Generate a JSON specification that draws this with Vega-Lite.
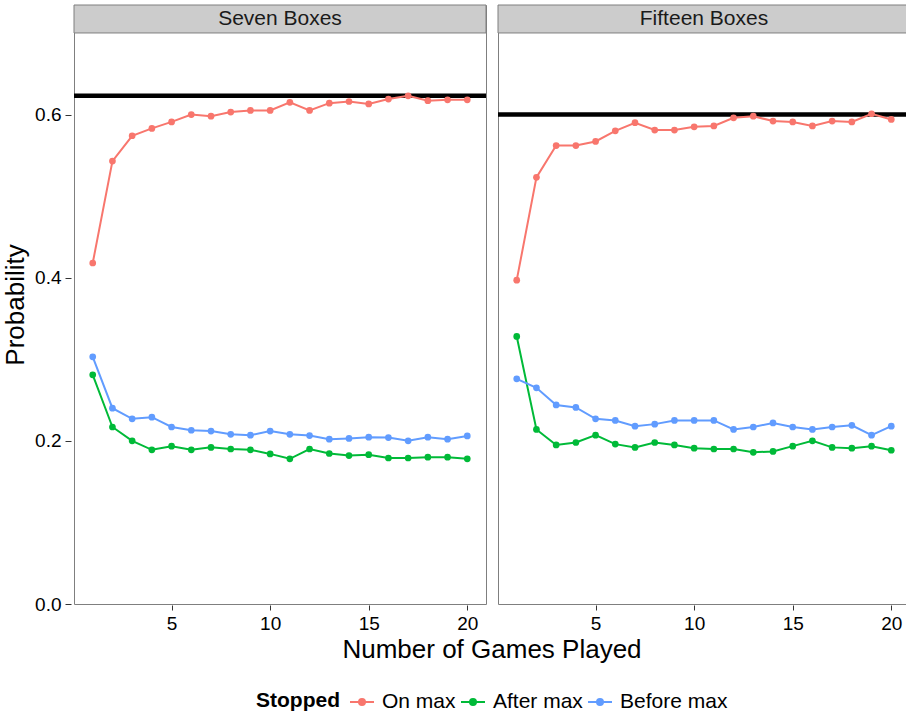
{
  "$schema": "https://vega.github.io/schema/vega-lite/v6.json",
  "padding": {"left": 2, "top": 4, "right": 0, "bottom": 0},
  "config": {
    "font": "Liberation Sans",
    "view": {"stroke": "#7F7F7F", "strokeWidth": 1},
    "axis": {"labelFontSize": 19, "labelColor": "#000000", "titleFontSize": 26, "titleFontWeight": "normal", "titleColor": "#000000", "domain": false},
    "legend": {"labelFontSize": 21, "titleFontSize": 21, "titleColor": "#000000", "labelColor": "#000000"}
  },
  "data": {"values": [
    {"panel":"Seven Boxes","optimal":0.623},
    {"panel":"Fifteen Boxes","optimal":0.600},
    {"panel":"Seven Boxes","game":1,"stopped":"On max","prob":0.418},
    {"panel":"Seven Boxes","game":2,"stopped":"On max","prob":0.543},
    {"panel":"Seven Boxes","game":3,"stopped":"On max","prob":0.574},
    {"panel":"Seven Boxes","game":4,"stopped":"On max","prob":0.583},
    {"panel":"Seven Boxes","game":5,"stopped":"On max","prob":0.591},
    {"panel":"Seven Boxes","game":6,"stopped":"On max","prob":0.600},
    {"panel":"Seven Boxes","game":7,"stopped":"On max","prob":0.598},
    {"panel":"Seven Boxes","game":8,"stopped":"On max","prob":0.603},
    {"panel":"Seven Boxes","game":9,"stopped":"On max","prob":0.605},
    {"panel":"Seven Boxes","game":10,"stopped":"On max","prob":0.605},
    {"panel":"Seven Boxes","game":11,"stopped":"On max","prob":0.615},
    {"panel":"Seven Boxes","game":12,"stopped":"On max","prob":0.605},
    {"panel":"Seven Boxes","game":13,"stopped":"On max","prob":0.614},
    {"panel":"Seven Boxes","game":14,"stopped":"On max","prob":0.616},
    {"panel":"Seven Boxes","game":15,"stopped":"On max","prob":0.613},
    {"panel":"Seven Boxes","game":16,"stopped":"On max","prob":0.619},
    {"panel":"Seven Boxes","game":17,"stopped":"On max","prob":0.623},
    {"panel":"Seven Boxes","game":18,"stopped":"On max","prob":0.617},
    {"panel":"Seven Boxes","game":19,"stopped":"On max","prob":0.618},
    {"panel":"Seven Boxes","game":20,"stopped":"On max","prob":0.618},
    {"panel":"Seven Boxes","game":1,"stopped":"After max","prob":0.281},
    {"panel":"Seven Boxes","game":2,"stopped":"After max","prob":0.217},
    {"panel":"Seven Boxes","game":3,"stopped":"After max","prob":0.200},
    {"panel":"Seven Boxes","game":4,"stopped":"After max","prob":0.189},
    {"panel":"Seven Boxes","game":5,"stopped":"After max","prob":0.1935},
    {"panel":"Seven Boxes","game":6,"stopped":"After max","prob":0.189},
    {"panel":"Seven Boxes","game":7,"stopped":"After max","prob":0.192},
    {"panel":"Seven Boxes","game":8,"stopped":"After max","prob":0.190},
    {"panel":"Seven Boxes","game":9,"stopped":"After max","prob":0.189},
    {"panel":"Seven Boxes","game":10,"stopped":"After max","prob":0.184},
    {"panel":"Seven Boxes","game":11,"stopped":"After max","prob":0.178},
    {"panel":"Seven Boxes","game":12,"stopped":"After max","prob":0.190},
    {"panel":"Seven Boxes","game":13,"stopped":"After max","prob":0.1845},
    {"panel":"Seven Boxes","game":14,"stopped":"After max","prob":0.182},
    {"panel":"Seven Boxes","game":15,"stopped":"After max","prob":0.183},
    {"panel":"Seven Boxes","game":16,"stopped":"After max","prob":0.179},
    {"panel":"Seven Boxes","game":17,"stopped":"After max","prob":0.179},
    {"panel":"Seven Boxes","game":18,"stopped":"After max","prob":0.180},
    {"panel":"Seven Boxes","game":19,"stopped":"After max","prob":0.180},
    {"panel":"Seven Boxes","game":20,"stopped":"After max","prob":0.178},
    {"panel":"Seven Boxes","game":1,"stopped":"Before max","prob":0.303},
    {"panel":"Seven Boxes","game":2,"stopped":"Before max","prob":0.240},
    {"panel":"Seven Boxes","game":3,"stopped":"Before max","prob":0.227},
    {"panel":"Seven Boxes","game":4,"stopped":"Before max","prob":0.229},
    {"panel":"Seven Boxes","game":5,"stopped":"Before max","prob":0.217},
    {"panel":"Seven Boxes","game":6,"stopped":"Before max","prob":0.213},
    {"panel":"Seven Boxes","game":7,"stopped":"Before max","prob":0.212},
    {"panel":"Seven Boxes","game":8,"stopped":"Before max","prob":0.208},
    {"panel":"Seven Boxes","game":9,"stopped":"Before max","prob":0.207},
    {"panel":"Seven Boxes","game":10,"stopped":"Before max","prob":0.212},
    {"panel":"Seven Boxes","game":11,"stopped":"Before max","prob":0.208},
    {"panel":"Seven Boxes","game":12,"stopped":"Before max","prob":0.2065},
    {"panel":"Seven Boxes","game":13,"stopped":"Before max","prob":0.202},
    {"panel":"Seven Boxes","game":14,"stopped":"Before max","prob":0.203},
    {"panel":"Seven Boxes","game":15,"stopped":"Before max","prob":0.2045},
    {"panel":"Seven Boxes","game":16,"stopped":"Before max","prob":0.204},
    {"panel":"Seven Boxes","game":17,"stopped":"Before max","prob":0.200},
    {"panel":"Seven Boxes","game":18,"stopped":"Before max","prob":0.2045},
    {"panel":"Seven Boxes","game":19,"stopped":"Before max","prob":0.202},
    {"panel":"Seven Boxes","game":20,"stopped":"Before max","prob":0.206},
    {"panel":"Fifteen Boxes","game":1,"stopped":"On max","prob":0.397},
    {"panel":"Fifteen Boxes","game":2,"stopped":"On max","prob":0.523},
    {"panel":"Fifteen Boxes","game":3,"stopped":"On max","prob":0.562},
    {"panel":"Fifteen Boxes","game":4,"stopped":"On max","prob":0.562},
    {"panel":"Fifteen Boxes","game":5,"stopped":"On max","prob":0.567},
    {"panel":"Fifteen Boxes","game":6,"stopped":"On max","prob":0.580},
    {"panel":"Fifteen Boxes","game":7,"stopped":"On max","prob":0.590},
    {"panel":"Fifteen Boxes","game":8,"stopped":"On max","prob":0.581},
    {"panel":"Fifteen Boxes","game":9,"stopped":"On max","prob":0.581},
    {"panel":"Fifteen Boxes","game":10,"stopped":"On max","prob":0.585},
    {"panel":"Fifteen Boxes","game":11,"stopped":"On max","prob":0.586},
    {"panel":"Fifteen Boxes","game":12,"stopped":"On max","prob":0.596},
    {"panel":"Fifteen Boxes","game":13,"stopped":"On max","prob":0.598},
    {"panel":"Fifteen Boxes","game":14,"stopped":"On max","prob":0.592},
    {"panel":"Fifteen Boxes","game":15,"stopped":"On max","prob":0.591},
    {"panel":"Fifteen Boxes","game":16,"stopped":"On max","prob":0.586},
    {"panel":"Fifteen Boxes","game":17,"stopped":"On max","prob":0.592},
    {"panel":"Fifteen Boxes","game":18,"stopped":"On max","prob":0.591},
    {"panel":"Fifteen Boxes","game":19,"stopped":"On max","prob":0.601},
    {"panel":"Fifteen Boxes","game":20,"stopped":"On max","prob":0.594},
    {"panel":"Fifteen Boxes","game":1,"stopped":"After max","prob":0.328},
    {"panel":"Fifteen Boxes","game":2,"stopped":"After max","prob":0.214},
    {"panel":"Fifteen Boxes","game":3,"stopped":"After max","prob":0.195},
    {"panel":"Fifteen Boxes","game":4,"stopped":"After max","prob":0.198},
    {"panel":"Fifteen Boxes","game":5,"stopped":"After max","prob":0.207},
    {"panel":"Fifteen Boxes","game":6,"stopped":"After max","prob":0.196},
    {"panel":"Fifteen Boxes","game":7,"stopped":"After max","prob":0.192},
    {"panel":"Fifteen Boxes","game":8,"stopped":"After max","prob":0.198},
    {"panel":"Fifteen Boxes","game":9,"stopped":"After max","prob":0.195},
    {"panel":"Fifteen Boxes","game":10,"stopped":"After max","prob":0.191},
    {"panel":"Fifteen Boxes","game":11,"stopped":"After max","prob":0.190},
    {"panel":"Fifteen Boxes","game":12,"stopped":"After max","prob":0.190},
    {"panel":"Fifteen Boxes","game":13,"stopped":"After max","prob":0.186},
    {"panel":"Fifteen Boxes","game":14,"stopped":"After max","prob":0.187},
    {"panel":"Fifteen Boxes","game":15,"stopped":"After max","prob":0.1935},
    {"panel":"Fifteen Boxes","game":16,"stopped":"After max","prob":0.200},
    {"panel":"Fifteen Boxes","game":17,"stopped":"After max","prob":0.192},
    {"panel":"Fifteen Boxes","game":18,"stopped":"After max","prob":0.191},
    {"panel":"Fifteen Boxes","game":19,"stopped":"After max","prob":0.1935},
    {"panel":"Fifteen Boxes","game":20,"stopped":"After max","prob":0.1885},
    {"panel":"Fifteen Boxes","game":1,"stopped":"Before max","prob":0.276},
    {"panel":"Fifteen Boxes","game":2,"stopped":"Before max","prob":0.265},
    {"panel":"Fifteen Boxes","game":3,"stopped":"Before max","prob":0.244},
    {"panel":"Fifteen Boxes","game":4,"stopped":"Before max","prob":0.241},
    {"panel":"Fifteen Boxes","game":5,"stopped":"Before max","prob":0.227},
    {"panel":"Fifteen Boxes","game":6,"stopped":"Before max","prob":0.225},
    {"panel":"Fifteen Boxes","game":7,"stopped":"Before max","prob":0.218},
    {"panel":"Fifteen Boxes","game":8,"stopped":"Before max","prob":0.2205},
    {"panel":"Fifteen Boxes","game":9,"stopped":"Before max","prob":0.225},
    {"panel":"Fifteen Boxes","game":10,"stopped":"Before max","prob":0.225},
    {"panel":"Fifteen Boxes","game":11,"stopped":"Before max","prob":0.225},
    {"panel":"Fifteen Boxes","game":12,"stopped":"Before max","prob":0.214},
    {"panel":"Fifteen Boxes","game":13,"stopped":"Before max","prob":0.217},
    {"panel":"Fifteen Boxes","game":14,"stopped":"Before max","prob":0.222},
    {"panel":"Fifteen Boxes","game":15,"stopped":"Before max","prob":0.217},
    {"panel":"Fifteen Boxes","game":16,"stopped":"Before max","prob":0.214},
    {"panel":"Fifteen Boxes","game":17,"stopped":"Before max","prob":0.217},
    {"panel":"Fifteen Boxes","game":18,"stopped":"Before max","prob":0.219},
    {"panel":"Fifteen Boxes","game":19,"stopped":"Before max","prob":0.207},
    {"panel":"Fifteen Boxes","game":20,"stopped":"Before max","prob":0.218}
  ]},
  "facet": {
    "column": {
      "field": "panel",
      "type": "nominal",
      "sort": ["Seven Boxes", "Fifteen Boxes"],
      "title": "Number of Games Played",
      "header": {"labels": false, "titleOrient": "bottom", "titleFontSize": 26, "titleFontWeight": "normal", "titleColor": "#000000", "titleFont": "Liberation Sans", "titlePadding": -6}
    }
  },
  "spacing": 6,
  "spec": {
    "width": 412,
    "height": 599,
    "layer": [
      {
        "transform": [{"filter": "datum.optimal != null"}],
        "mark": {"type": "rect", "fill": "#CCCCCC", "stroke": "#7F7F7F", "strokeWidth": 1},
        "encoding": {
          "x": {"datum": 0.05, "type": "quantitative"},
          "x2": {"datum": 20.95},
          "y": {"datum": 0.7, "type": "quantitative"},
          "y2": {"datum": 0.7343}
        }
      },
      {
        "transform": [{"filter": "datum.optimal != null"}],
        "mark": {"type": "text", "fontSize": 21, "color": "#1A1A1A", "baseline": "middle", "align": "center"},
        "encoding": {
          "x": {"datum": 10.5, "type": "quantitative"},
          "y": {"datum": 0.7172, "type": "quantitative"},
          "text": {"field": "panel", "type": "nominal"}
        }
      },
      {
        "transform": [{"filter": "datum.optimal != null"}],
        "mark": {"type": "rule", "color": "#000000", "strokeWidth": 4.5},
        "encoding": {
          "y": {"field": "optimal", "type": "quantitative"}
        }
      },
      {
        "transform": [{"filter": "datum.prob != null"}],
        "mark": {"type": "line", "strokeWidth": 2},
        "encoding": {
          "x": {
            "field": "game", "type": "quantitative",
            "scale": {"domain": [0.05, 20.95], "nice": false, "zero": false},
            "axis": {
              "title": null,
              "values": [2.5, 5, 7.5, 10, 12.5, 15, 17.5, 20],
              "labelExpr": "datum.value % 5 === 0 ? format(datum.value, 'd') : ''",
              "tickSize": 5, "labelPadding": 4,
              "tickColor": {"condition": {"test": "datum.value % 5 === 0", "value": "#333333"}, "value": "transparent"},
              "gridColor": {"condition": {"test": "datum.value % 5 === 0", "value": "#E5E5E5"}, "value": "#F5F5F5"}
            }
          },
          "y": {
            "field": "prob", "type": "quantitative",
            "scale": {"domain": [0, 0.7343], "nice": false, "zero": false},
            "axis": {
              "title": "Probability",
              "values": [0, 0.1, 0.2, 0.3, 0.4, 0.5, 0.6],
              "labelExpr": "round(datum.value * 10) % 2 === 0 ? format(datum.value, '.1f') : ''",
              "tickSize": 6, "labelPadding": 4, "titlePadding": 6,
              "tickColor": {"condition": {"test": "round(datum.value * 10) % 2 === 0", "value": "#333333"}, "value": "transparent"},
              "gridColor": {"condition": {"test": "round(datum.value * 10) % 2 === 0", "value": "#E5E5E5"}, "value": "#F5F5F5"}
            }
          },
          "color": {
            "field": "stopped", "type": "nominal",
            "scale": {"domain": ["On max", "After max", "Before max"], "range": ["#F8766D", "#00BA38", "#619CFF"]},
            "legend": {
              "title": "Stopped",
              "orient": "none",
              "legendX": 182,
              "legendY": 684,
              "direction": "horizontal",
              "titleOrient": "left",
              "symbolType": "M-1,0L1,0M0.25,0A0.25,0.25 0 1,1 -0.25,0A0.25,0.25 0 1,1 0.25,0Z",
              "symbolSize": 576,
              "symbolStrokeWidth": 2,
              "labelOffset": 7,
              "columnPadding": 1,
              "titlePadding": 9,
              "encode": {"symbols": {"update": {"fill": {"scale": "color", "field": "value"}, "stroke": {"scale": "color", "field": "value"}, "opacity": {"value": 1}}}}
            }
          }
        }
      },
      {
        "transform": [{"filter": "datum.prob != null"}],
        "mark": {"type": "point", "filled": true, "size": 45, "opacity": 1},
        "encoding": {
          "x": {"field": "game", "type": "quantitative"},
          "y": {"field": "prob", "type": "quantitative"},
          "color": {"field": "stopped", "type": "nominal"}
        }
      }
    ]
  }
}
